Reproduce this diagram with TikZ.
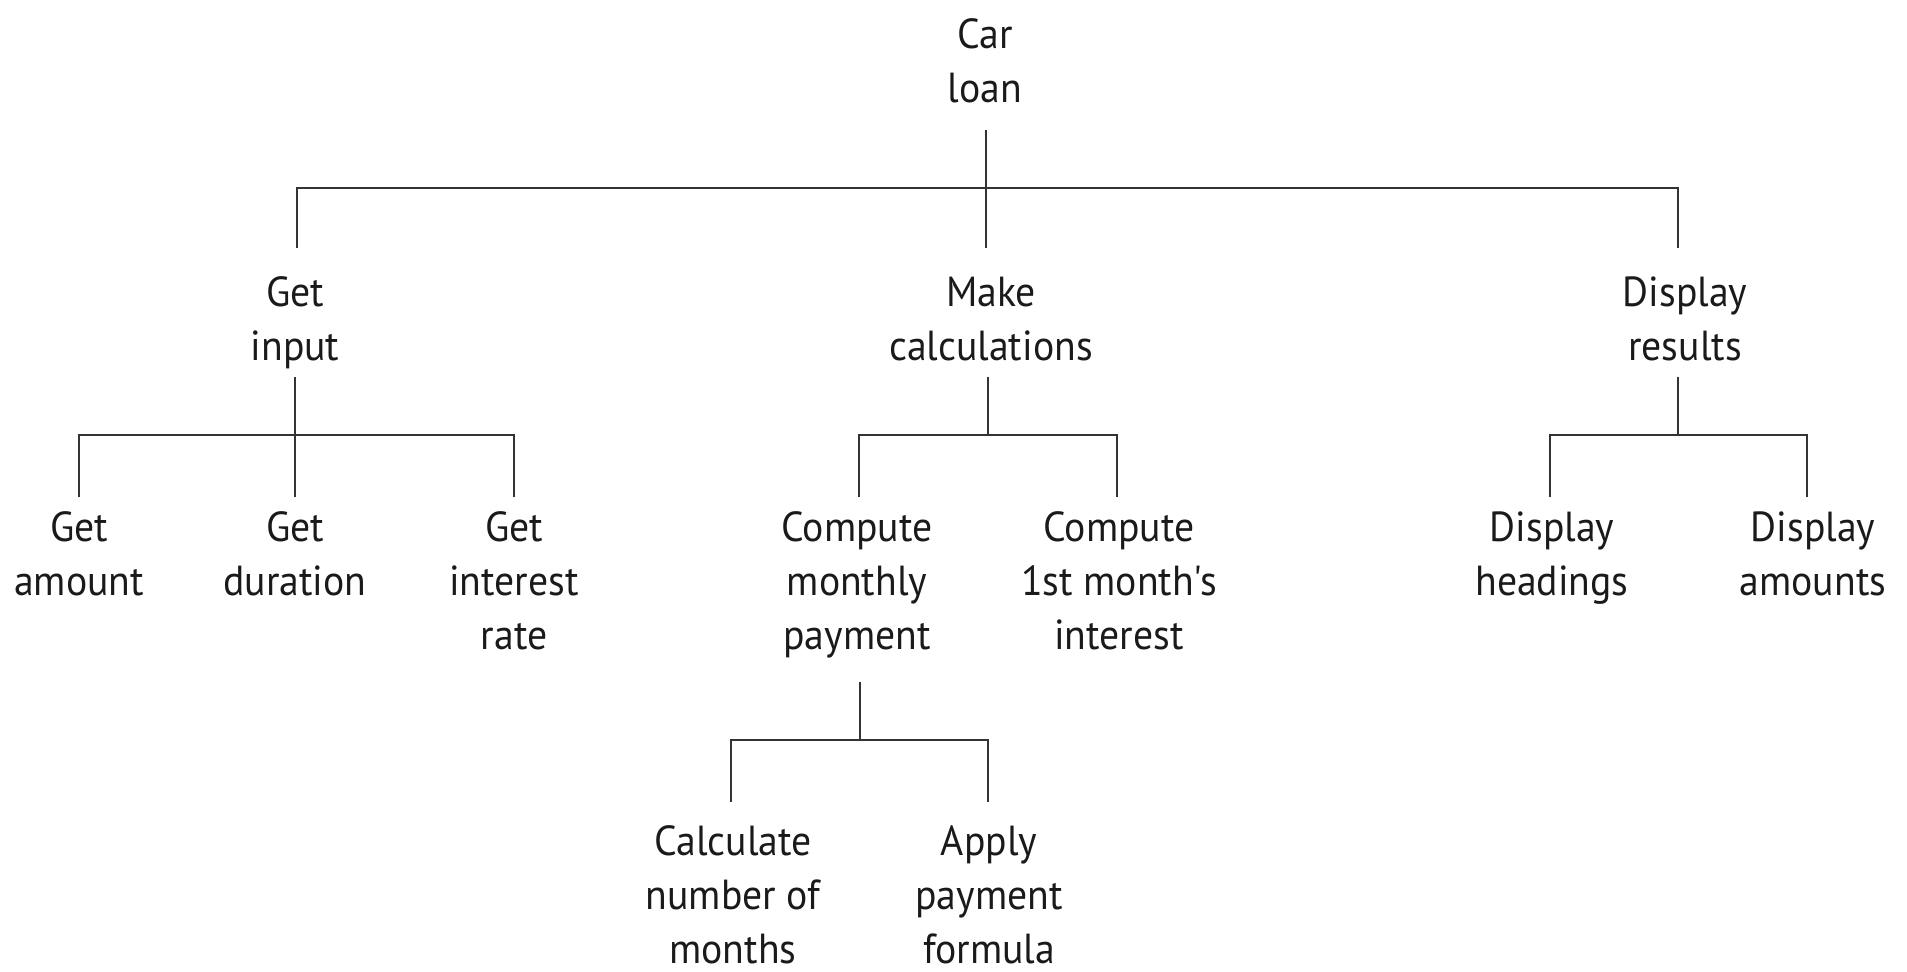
\documentclass[tikz,border=0pt]{standalone}
\usepackage{fontspec}
\newfontfamily\lblf[FakeStretch=0.945]{PT Sans}
\usetikzlibrary{calc}
\newcommand{\lblfont}{\lblf\fontsize{21pt}{27pt}\selectfont}
\newcommand{\mystr}{\rule[-8.1pt]{0pt}{27pt}}
\definecolor{linec}{HTML}{333333}
\definecolor{textc}{HTML}{1A1A1A}
\tikzset{
  lbl/.style={align=center, inner sep=0pt, outer sep=0pt, font=\lblfont, text=textc},
  conn/.style={draw=linec, line width=1.35pt, line cap=butt, line join=miter}
}
\begin{document}
\begin{tikzpicture}[x=0.5pt, y=-0.5pt]
\useasboundingbox (0,0) rectangle (1907,972);
% level 0
\node[lbl] (root) at (985,65) {\mystr Car\\loan\mystr};
% level 1
\node[lbl] (gi) at (295,323) {\mystr Get\\input\mystr};
\node[lbl] (mc) at (991,323) {\mystr Make\\calculations\mystr};
\node[lbl] (dr) at (1685,323) {\mystr Display\\results\mystr};
% level 2
\node[lbl] (ga) at (79,558) {\mystr Get\\amount\mystr};
\node[lbl] (gd) at (295,558) {\mystr Get\\duration\mystr};
\node[lbl] (gr) at (514,585) {\mystr Get\\interest\\rate\mystr};
\node[lbl] (cm) at (857,585) {\mystr Compute\\monthly\\payment\mystr};
\node[lbl] (ci) at (1119,585) {\mystr Compute\\1st month's\\interest\mystr};
\node[lbl] (dh) at (1552,558) {\mystr Display\\headings\mystr};
\node[lbl] (da) at (1813,558) {\mystr Display\\amounts\mystr};
% level 3
\node[lbl, anchor=north] (cn) at (733,818) {\mystr Calculate\\number of\\months};
\node[lbl, anchor=north] (ap) at (989,818) {\mystr Apply\\payment\\formula};
% connectors: root
\draw[conn] ($(root.south)+(1,11)$) -- ($(mc.north)+(-5,-21)$);
\draw[conn] ($(gi.north)+(2,-21)$) |- ($(root.south)+(1,69)$) -| ($(dr.north)+(-7,-21)$);
% get input
\draw[conn] (gi.south) -- ($(gd.north)+(0,-7)$);
\draw[conn] ($(ga.north)+(0,-7)$) |- ($(gi.south)+(0,58)$) -| ($(gr.north)+(0,-7)$);
% make calculations
\draw[conn] ($(mc.south)+(-3,0)$) -- ($(mc.south)+(-3,58)$);
\draw[conn] ($(cm.north)+(2,-7)$) |- ($(mc.south)+(-3,58)$) -| ($(ci.north)+(-2,-7)$);
% display results
\draw[conn] ($(dr.south)+(-7,0)$) -- ($(dr.south)+(-7,58)$);
\draw[conn] ($(dh.north)+(-2,-7)$) |- ($(dr.south)+(-7,58)$) -| ($(da.north)+(-6,-7)$);
% compute monthly payment
\draw[conn] ($(cm.south)+(3,16)$) -- ($(cm.south)+(3,74)$);
\draw[conn] ($(cn.north)+(-2,-16)$) |- ($(cm.south)+(3,74)$) -| ($(ap.north)+(-1,-16)$);
\end{tikzpicture}
\end{document}
